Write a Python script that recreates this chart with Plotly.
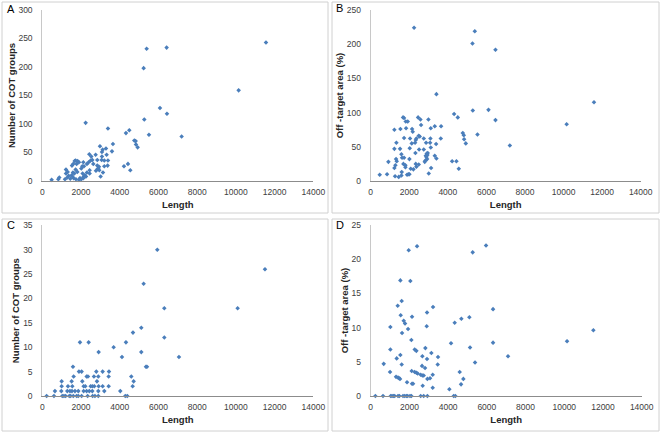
import plotly.graph_objects as go

# Panel A: Number of COT groups vs Length
a_len = [6079, 6440, 2239, 3392, 5269, 4494, 4322, 5510, 7198, 4753, 4822, 4839, 4925, 3650, 3599,
         2979, 3117, 3082, 3289, 3323, 3392, 4219, 4425, 4546, 2755, 2428, 2531, 2841, 3082, 3065,
         2583, 2497, 2394, 2118, 1722, 1825, 1894, 1670, 2153, 2066, 2307, 2841, 2928, 2859, 2945,
         2772, 2893, 3203, 3203, 3375, 1532, 1601, 1774, 1722, 2015, 1808, 1223, 1309, 1223, 1584,
         1653, 1515, 2445, 2445, 2307, 2204, 2084, 2135, 3013, 3134, 1360, 1291, 878, 826, 482,
         1171, 1446, 1619, 1739, 1946, 2015, 1894, 1550, 2118, 2256, 2634, 5390, 5235, 6423, 10143, 11555]
a_val = [128, 118, 102, 92, 108, 89, 84, 81, 78, 71, 70, 64, 59, 65, 52,
         61, 55, 51, 57, 46, 36, 26, 30, 19, 46, 47, 43, 37, 43, 37,
         37, 36, 33, 33, 36, 35, 33, 35, 26, 26, 30, 27, 25, 21, 19,
         18, 22, 36, 26, 27, 27, 30, 30, 20, 22, 16, 20, 16, 13, 15,
         13, 10, 19, 13, 15, 10, 13, 8, 8, 15, 9, 6, 6, 3, 2,
         3, 4, 5, 3, 5, 3, 2, 8, 5, 8, 30, 232, 198, 234, 159, 243]

# Panel B: Off-target area (%) vs Length
b_len = [2249, 5398, 5277, 6470, 3408, 4325, 4515, 5294, 6107, 6470, 4775, 4827, 4844, 4931, 5536,
         7214, 10160, 11578, 1678, 1730, 1817, 1920, 2457, 2578, 2612, 2993, 1228, 1540, 1834, 2145,
         2180, 3114, 3322, 3650, 1730, 2041, 2336, 2370, 2491, 2543, 2751, 3097, 1332, 2128, 2301,
         2872, 3080, 3391, 3633, 1228, 1522, 2024, 3114, 2509, 2751, 1592, 2958, 2906, 2318, 3322,
         3408, 1626, 1730, 2855, 2941, 2889, 2924, 2837, 2803, 917, 1349, 1315, 1696, 1800, 2491,
         2336, 2370, 2007, 2076, 2214, 3131, 1228, 1280, 4221, 4446, 4567, 1609, 1592, 1886, 1955,
         2007, 3010, 467, 848, 1263, 1453, 1800]
b_val = [224, 219, 201, 192, 127, 98, 93, 103, 104, 89, 70, 67, 61, 55, 68,
         52, 83, 115, 93, 92, 87, 87, 93, 90, 82, 90, 75, 76, 77, 76,
         72, 77, 80, 80, 63, 62, 60, 62, 66, 65, 62, 62, 56, 55, 56,
         56, 56, 54, 62, 47, 47, 48, 49, 46, 46, 39, 41, 40, 41, 37,
         33, 34, 34, 37, 38, 35, 32, 30, 28, 28, 29, 32, 25, 23, 24,
         25, 21, 32, 18, 17, 19, 19, 23, 29, 29, 18, 13, 8, 9, 10,
         10, 11, 9, 10, 7, 6, 20]

# Panel C: Number of COT groups vs Length
c_len = [5941, 11503, 5235, 6303, 10091, 5114, 4684, 6303, 1946, 2394, 4322, 3685, 4116, 7060, 2910,
         5114, 5407, 1584, 5355,
         1894, 2032, 2790, 3117, 3444,
         1619, 2290, 2359, 2669, 2893, 3427, 4598,
         999, 1515, 2066, 2824, 4718,
         999, 1326, 1550, 2135, 2221, 2497, 2583, 2686, 2910, 3117, 3427, 4667,
         654, 982, 1291, 1429, 1533, 1688, 1860, 2135, 2290, 2428, 2583, 2893, 3203, 4029,
         224, 603, 1033, 1119, 1205, 1395, 1464, 1601, 1774, 1860, 2032, 2342, 2600, 2720, 2893,
         4288, 4391]
c_val = [30, 26, 23, 18, 18, 14, 13, 12, 11, 11, 11, 10, 8, 8, 9,
         9, 6, 6, 6,
         5, 5, 5, 5, 5,
         4, 4, 4, 4, 4, 4, 4,
         3, 3, 3, 3, 3,
         2, 2, 2, 2, 2, 2, 2, 2, 2, 2, 2, 2,
         1, 1, 1, 1, 1, 1, 1, 1, 1, 1, 1, 1, 1, 1,
         0, 0, 0, 0, 0, 0, 0, 0, 0, 0, 0, 0, 0, 0, 0,
         0, 0]

# Panel D: Off-target area (%) vs Length
d_len = [1963, 2394, 5958, 5269, 1533, 2049, 1601, 1395, 3220, 6320, 1550, 2135, 2910, 1705, 1774,
         4339, 4684, 5097, 1016, 2893, 1929, 1619, 2101, 7094, 4150, 5132, 6320, 2273, 2359, 1016,
         2824, 1533, 3134, 5390, 672, 1601, 3478, 2669, 1343, 2910, 2652, 3461, 2807, 999, 2118,
         2273, 2359, 2428, 2583, 2669, 2738, 1309, 1412, 1464, 1515, 2928, 3065, 3203, 4598, 4787,
         4667, 1877, 2135, 2187, 2686, 3203, 4064, 10143, 11503,
         241, 637, 1033, 1102, 1171, 1240, 1412, 1481, 1670, 1756, 1843, 1911, 2032, 2101, 2583,
         2738, 2928, 4288, 4374]
d_val = [21.3, 21.9, 22.0, 21.0, 16.9, 16.8, 13.9, 13.2, 13.0, 12.7, 11.8, 11.6, 12.2, 11.0, 10.6,
         10.7, 11.3, 11.5, 10.1, 10.2, 9.8, 9.2, 8.2, 5.8, 7.7, 7.1, 7.8, 6.8, 6.6, 6.8,
         7.0, 6.0, 6.3, 4.9, 4.7, 4.6, 5.7, 5.8, 5.5, 5.4, 4.4, 4.6, 4.1, 3.5, 3.65,
         3.5, 3.4, 3.3, 3.1, 3.0, 3.0, 2.8, 2.7, 2.6, 2.5, 2.5, 2.6, 3.1, 3.5, 2.5,
         1.7, 2.0, 1.8, 1.8, 1.5, 1.2, 1.0, 8.0, 9.6,
         0, 0, 0, 0, 0, 0, 0, 0, 0, 0, 0, 0, 0, 0, 0,
         0, 0, 0, 0]

x_ticks = [0, 2000, 4000, 6000, 8000, 10000, 12000, 14000]
x_tick_labels = ["0", "2000", "4000", "6000", "8000", "10000", "12000", "14000"]
panel_letters = ["A", "B", "C", "D"]
y_titles = ["Number of COT groups", "Off -target area (%)", "Number of COT groups", "Off -target area (%)"]
y_ranges = [[0, 300], [0, 250], [0, 35], [0, 25]]
y_dticks = [50, 50, 5, 5]

W, H = 661, 434
FONT = "Liberation Sans"
MARK = "#4a7ebb"

def px_x(v):
    return v / W

def px_y(v):
    return 1 - v / H

# plot areas in page pixels: (x0, x1, ytop, ybottom)
areas = [(42.3, 313.3, 10, 181), (370.7, 640.7, 10, 181),
         (42.3, 313.3, 225.3, 396), (370.7, 641.7, 225, 396)]
boxes = [(2, 328, 2, 213), (332, 659, 2, 213), (2, 328, 219, 431), (332, 659, 219, 431)]
letter_pos = [(5, 9), (334, 8), (5, 225), (334, 225)]

data = [(a_len, a_val), (b_len, b_val), (c_len, c_val), (d_len, d_val)]

fig = go.Figure()
layout = {}
shapes = []
annotations = []
for i in range(4):
    n = "" if i == 0 else str(i + 1)
    xs, ys = data[i]
    fig.add_trace(go.Scatter(x=xs, y=ys, mode="markers",
                             marker=dict(symbol="diamond", size=3.5, color=MARK),
                             xaxis="x" + n, yaxis="y" + n, cliponaxis=False,
                             showlegend=False))
    x0, x1, yt, yb = areas[i]
    layout["xaxis" + n] = dict(domain=[px_x(x0), px_x(x1)], anchor="y" + n, range=[0, 14000],
                               tickvals=x_ticks, ticktext=x_tick_labels, showgrid=False, zeroline=False,
                               automargin=False, ticklabelstandoff=3,
                               showline=True, linecolor="#8c8c8c", linewidth=1, ticks="",
                               tickfont=dict(family=FONT, size=8.5, color="#404040"),
                               title=dict(text="<b>Length</b>", standoff=5,
                                          font=dict(family=FONT, size=9.5, color="#262626")))
    layout["yaxis" + n] = dict(domain=[px_y(yb), px_y(yt)], anchor="x" + n, range=y_ranges[i],
                               dtick=y_dticks[i], showgrid=False, zeroline=False,
                               automargin=False, ticklabelstandoff=7,
                               showline=True, linecolor="#c8c8c8", linewidth=1, ticks="",
                               tickfont=dict(family=FONT, size=8.5, color="#404040"),
                               title=dict(text="<b>" + y_titles[i] + "</b>", standoff=1,
                                          font=dict(family=FONT, size=9.5, color="#262626")))
    bx0, bx1, by0, by1 = boxes[i]
    shapes.append(dict(type="rect", xref="paper", yref="paper",
                       x0=px_x(bx0), x1=px_x(bx1), y0=px_y(by1), y1=px_y(by0),
                       line=dict(color="#d0d0d0", width=1), fillcolor="rgba(0,0,0,0)"))
    lx, ly = letter_pos[i]
    annotations.append(dict(text=panel_letters[i], xref="paper", yref="paper",
                            x=px_x(lx), y=px_y(ly), xanchor="left", yanchor="middle",
                            showarrow=False, font=dict(family=FONT, size=11, color="#000000")))

fig.update_layout(width=W, height=H, margin=dict(l=0, r=0, t=0, b=0),
                  paper_bgcolor="white", plot_bgcolor="white",
                  shapes=shapes, annotations=annotations, **layout)

# remove the default page body margin so the figure fills the window exactly
fig.write_html("out.html", config={"displayModeBar": False},
               post_script="document.body.style.margin='0';document.body.style.overflow='hidden';")
